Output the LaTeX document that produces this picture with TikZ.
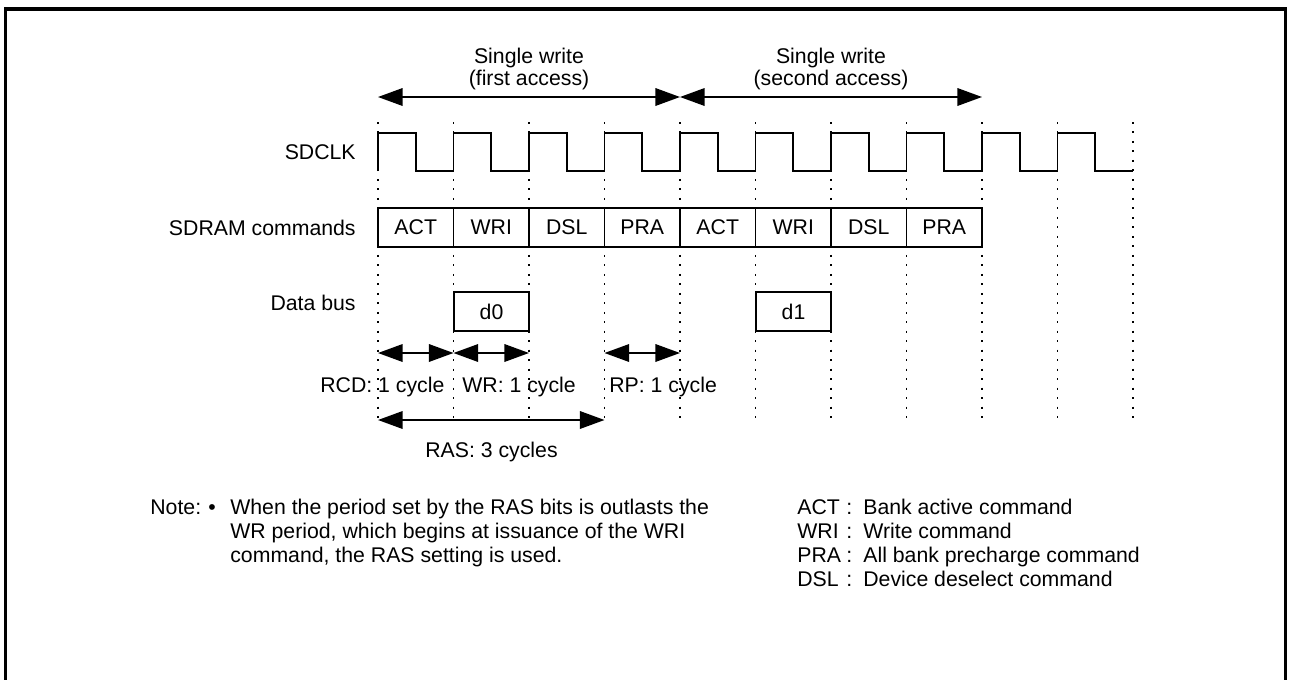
\documentclass[tikz,border=0pt]{standalone}
\usepackage{fontspec}
\setmainfont{Liberation Sans}
\usetikzlibrary{arrows.meta,positioning}

\begin{document}
\begin{tikzpicture}[x=0.02cm,y=-0.02cm,
		font=\fontsize{12.1}{14}\selectfont,
		tick/.style={line width=1.1pt,dash pattern=on 1.1pt off 4.3pt},
		sig/.style={line width=0.9pt},
		dim/.style={line width=0.9pt,{Triangle[length=14pt,width=10pt]}-{Triangle[length=14pt,width=10pt]}},
		cmdbox/.style={draw,line width=1.1pt,minimum width=1.51cm,minimum height=0.78cm,inner sep=0pt},
		lbl/.style={anchor=base east,inner sep=0pt},
		txt/.style={anchor=base west,inner sep=0pt}]
		\useasboundingbox (0,0) rectangle (1289,680);
		% frame
		\draw[line width=2pt] (5.5,680) -- (5.5,9) -- (1285.5,9) -- (1285.5,680);
		% cycle ticks and clock
		\foreach \i in {0,...,10} \coordinate (t\i) at (378+75.5*\i,122);
		\foreach \i in {0,...,10} \draw[tick] (t\i) -- ++(0,298);
		\draw[sig] (378,171) \foreach \i in {0,...,9}{ -- ++(0,-38) -- ++(37.75,0) -- ++(0,38) -- ++(37.75,0)};
		% signal names
		\node[lbl] (sdclk) at (356,159) {SDCLK};
		\node[lbl] (sdcmd) at (356,235) {SDRAM commands};
		\node[lbl] (dbus) at (356,310) {Data bus};
		% commands and data
		\foreach \c [count=\i from 0] in {ACT,WRI,DSL,PRA,ACT,WRI,DSL,PRA}
			\node[cmdbox] (cmd\i) at (415.75+75.5*\i,227.5) {\c};
		\node[cmdbox] (d0) at (491.5,311.5) {d0};
		\node[cmdbox] (d1) at (793.5,311.5) {d1};
		% accesses
		\coordinate (ytop) at (0,97);
		\draw[dim] (t0 |- ytop) -- (t4 |- ytop);
		\draw[dim] (t4 |- ytop) -- (t8 |- ytop);
		\node[align=center,font=\fontsize{12.1}{12.5}\selectfont] (first) at (529,69) {Single write\\(first access)};
		\node[align=center,font=\fontsize{12.1}{12.5}\selectfont] (second) at (831,69) {Single write\\(second access)};
		% timings
		\coordinate (ydim) at (0,353);
		\coordinate (yras) at (0,420);
		\draw[dim] (t0 |- ydim) -- (t1 |- ydim);
		\draw[dim] (t1 |- ydim) -- (t2 |- ydim);
		\draw[dim] (t3 |- ydim) -- (t4 |- ydim);
		\draw[dim] (t0 |- yras) -- (t3 |- yras);
		\node[txt] (rcd) at (320,392) {RCD: 1 cycle};
		\node[txt] (wr) at (462,392) {WR: 1 cycle};
		\node[txt] (rp) at (609,392) {RP: 1 cycle};
		\node[txt] (ras) at (425,457) {RAS: 3 cycles};
		% note
		\node[txt] (note) at (150,514) {Note:};
		\node[txt] (bullet) at (208,514) {\textbullet};
		\node[txt] (note1) at (230,514) {When the period set by the RAS bits is outlasts the};
		\node[txt] (note2) at (230,538) {WR period, which begins at issuance of the WRI};
		\node[txt] (note3) at (230,562) {command, the RAS setting is used.};
		% legend
		\foreach \a/\b [count=\i from 0] in {ACT/Bank active command,WRI/Write command,PRA/All bank precharge command,DSL/Device deselect command}{
			\node[txt] (abbr\i) at (797,514+24*\i) {\a};
			\node[txt] (colon\i) at (846,514+24*\i) {:};
			\node[txt] (desc\i) at (863,514+24*\i) {\b};
		}
\end{tikzpicture}
\end{document}
